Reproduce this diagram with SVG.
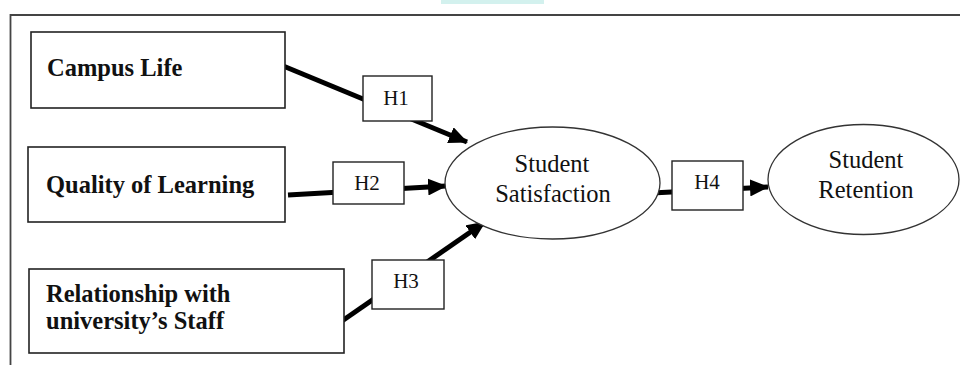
<svg xmlns="http://www.w3.org/2000/svg" width="960" height="365" viewBox="0 0 960 365">
<style>
.box{fill:#fff;stroke:#222;stroke-width:1.6}
.lbl{fill:#fff;stroke:#222;stroke-width:1.4}
.ell{fill:#fff;stroke:#333;stroke-width:1.3}
.bt{font-family:"Liberation Serif","Times New Roman",serif;font-weight:bold;font-size:24.5px;fill:#111}
.et{font-family:"Liberation Serif","Times New Roman",serif;font-size:24.5px;fill:#111;text-anchor:middle}
.ht{font-family:"Liberation Serif","Times New Roman",serif;font-size:21px;fill:#111;text-anchor:middle}
.con{stroke:#000;stroke-width:5;fill:none}
</style>
<defs>
<marker id="ah" markerUnits="userSpaceOnUse" markerWidth="19" markerHeight="17" refX="18" refY="8.5" orient="auto">
<path d="M0,0 L19,8.5 L0,17 Z" fill="#000"/>
</marker>
</defs>
<rect x="0" y="0" width="960" height="365" fill="#fff"/>
<rect x="441" y="0" width="103" height="4" fill="#d3f1ee"/>
<path d="M10.5,365 V15 H960" fill="none" stroke="#444" stroke-width="1.8"/>
<g id="connectors">
<line class="con" x1="276" y1="63" x2="467" y2="142" marker-end="url(#ah)"/>
<line class="con" x1="288" y1="195" x2="446" y2="186" marker-end="url(#ah)"/>
<line class="con" x1="342" y1="321" x2="485" y2="222" marker-end="url(#ah)"/>
<line class="con" x1="652" y1="193" x2="768" y2="187" marker-end="url(#ah)"/>
</g>
<g id="campus-life">
<rect class="box" x="31" y="32" width="254" height="76"/>
<text class="bt" x="47" y="76">Campus Life</text>
</g>
<g id="quality-of-learning">
<rect class="box" x="28" y="147" width="257" height="75"/>
<text class="bt" x="46" y="193">Quality  of Learning</text>
</g>
<g id="relationship-staff">
<rect class="box" x="29" y="269" width="315" height="84"/>
<text class="bt" x="46" y="302">Relationship with</text>
<text class="bt" x="46" y="329">university’s Staff</text>
</g>
<g id="student-satisfaction">
<ellipse class="ell" cx="552.5" cy="183" rx="107.5" ry="56"/>
<text class="et" x="552" y="172">Student</text>
<text class="et" x="553" y="202">Satisfaction</text>
</g>
<g id="student-retention">
<ellipse class="ell" cx="863.5" cy="179.5" rx="95.5" ry="55"/>
<text class="et" x="866" y="168">Student</text>
<text class="et" x="866" y="198">Retention</text>
</g>
<g id="h1">
<rect class="lbl" x="363" y="76" width="69" height="45"/>
<text class="ht" x="396" y="105">H1</text>
</g>
<g id="h2">
<rect class="lbl" x="333" y="162" width="71" height="42"/>
<text class="ht" x="367" y="190">H2</text>
</g>
<g id="h3">
<rect class="lbl" x="372" y="260" width="72" height="49"/>
<text class="ht" x="406" y="288">H3</text>
</g>
<g id="h4">
<rect class="lbl" x="672" y="161" width="71" height="49"/>
<text class="ht" x="707" y="189">H4</text>
</g>
</svg>
